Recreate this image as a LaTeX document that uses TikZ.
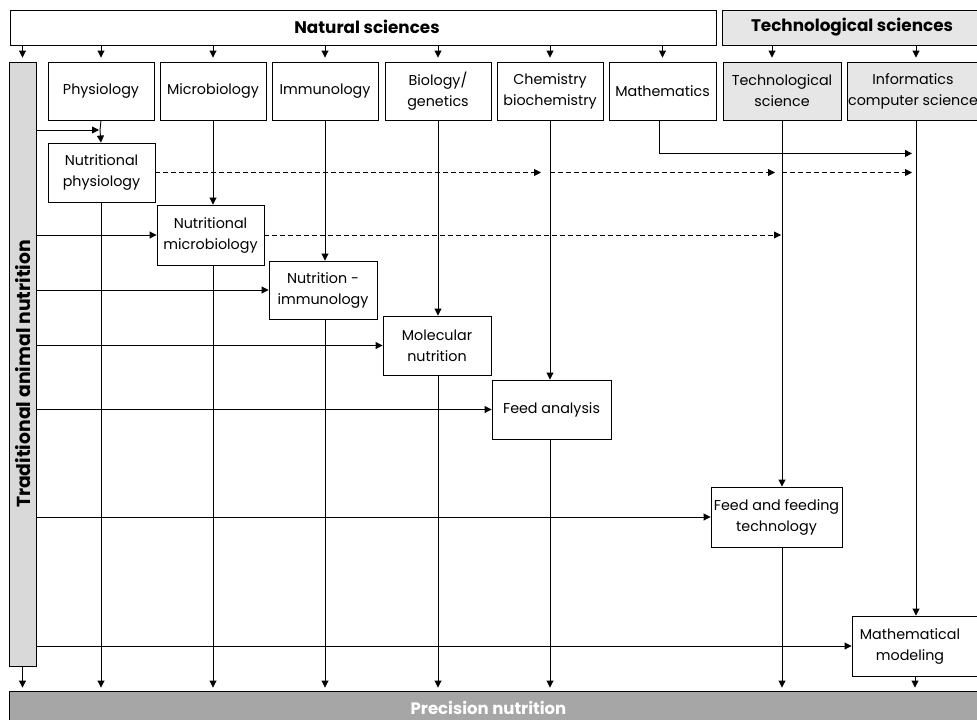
\documentclass[tikz,border=0pt]{standalone}
\usepackage{fontspec}
\setmainfont{Poppins}
\usetikzlibrary{arrows.meta,calc}
\definecolor{lightg}{HTML}{E6E6E6}
\definecolor{barg}{HTML}{D9D9D9}
\definecolor{precg}{HTML}{A6A6A6}
\begin{document}
\begin{tikzpicture}[x=1pt,y=-1pt,
  box/.style={draw, line width=0.9pt, align=center, inner sep=0pt, fill=white,
    font=\fontsize{14.3}{21}\selectfont},
  gbox/.style={box, fill=lightg},
  head/.style={draw, line width=0.9pt, align=center, inner sep=0pt,
    font=\fontsize{16.8}{19}\selectfont\bfseries},
  arr/.style={-{Triangle[length=7pt,width=7pt]}, line width=0.9pt},
  dsh/.style={arr, dash pattern=on 5pt off 3pt},
]
\useasboundingbox (0,0) rectangle (977,720);
% headers
\node[head, fill=white, minimum width=706pt, minimum height=35pt] (nat) at (363,27.5) {};
\node[font=\fontsize{16.8}{19}\selectfont\bfseries] (natlabel) at (367,27) {Natural sciences};
\node[head, fill=lightg, minimum width=258pt, minimum height=35pt] (techh) at (851,27.5) {};
\node[font=\fontsize{16.8}{19}\selectfont\bfseries] (techlabel) at (852,27) {Technological sciences};
% left bar and bottom bar
\node[draw, line width=0.9pt, fill=barg, minimum width=27pt, minimum height=604pt, inner sep=0pt] (trad) at (22.5,364) {};
\node[rotate=90, font=\fontsize{18.8}{20}\selectfont\bfseries] (tradlabel) at (23,374) {Traditional animal nutrition};
\node[draw, line width=0.9pt, fill=precg, minimum width=971pt, minimum height=31pt, inner sep=0pt] (prec) at (494.5,706.5) {};
\node[text=white, font=\fontsize{16.5}{18}\selectfont\bfseries] (preclabel) at (488.5,708) {Precision nutrition};
% discipline boxes
\node[box, minimum width=106pt, minimum height=58pt] (phys) at (101,91) {Physiology};
\node[box, minimum width=106pt, minimum height=58pt] (micro) at (213,91) {Microbiology};
\node[box, minimum width=106pt, minimum height=58pt] (immu) at (325,91) {Immunology};
\node[box, minimum width=106pt, minimum height=58pt] (bio) at (438,91) {Biology/\\genetics};
\node[box, minimum width=106pt, minimum height=58pt] (chem) at (550,91) {Chemistry\\biochemistry};
\node[box, minimum width=107pt, minimum height=58pt] (math) at (662.5,91) {Mathematics};
\node[gbox, minimum width=118pt, minimum height=58pt] (tech) at (782,91) {Technological\\science};
\node[gbox, minimum width=138pt, minimum height=58pt] (info) at (916,91) {};
\node[font=\fontsize{14.3}{21}\selectfont, align=center] (infolabel) at (913,91) {Informatics\\computer science};
% second-level boxes
\node[box, minimum width=107pt, minimum height=59pt] (nphys) at (101.5,172.5) {Nutritional\\physiology};
\node[box, minimum width=107pt, minimum height=60pt] (nmicro) at (210.5,235) {Nutritional\\microbiology};
\node[box, minimum width=108pt, minimum height=58pt] (nimmu) at (323,290) {Nutrition -\\immunology};
\node[box, minimum width=108pt, minimum height=59pt] (mol) at (437,345.5) {Molecular\\nutrition};
\node[box, minimum width=119pt, minimum height=59pt] (feed) at (551.5,409.5) {Feed analysis};
\node[box, minimum width=131pt, minimum height=60pt] (fft) at (776.5,517) {Feed and feeding\\technology};
\node[box, minimum width=126pt, minimum height=60pt] (mm) at (915,646) {};
\node[font=\fontsize{14.3}{21}\selectfont, align=center] (mmlabel) at (910,646) {Mathematical\\modeling};
% header arrows
\foreach \n in {phys,micro,immu,bio,chem,math,info}
  \draw[arr, shorten >=4pt] (nat.south -| \n.north) -- (\n.north);
\draw[arr, shorten >=4pt] (nat.south -| trad.north) -- (trad.north);
\coordinate (techin) at ($(tech.north)+(-10,0)$);
\draw[arr, shorten >=4pt] (nat.south -| techin) -- (techin);
% column arrows
\coordinate (j1) at (100,130);
\draw[line width=0.9pt] (phys.south) -- (j1);
\draw[arr] (j1) -- (phys.south |- nphys.north);
\draw[arr] (micro.south) -- (micro.south |- nmicro.north);
\draw[arr] (immu.south) -- (immu.south |- nimmu.north);
\draw[arr] (bio.south) -- (bio.south |- mol.north);
\draw[arr] (chem.south) -- (chem.south |- feed.north);
\draw[arr] (tech.south) -- (tech.south |- fft.north);
\draw[arr] (info.south) -- (info.south |- mm.north);
\draw[arr, shorten >=4pt] (math.south -| 659,0) |- ($(info.south)+(0,33)$);
% down to precision
\draw[arr, shorten >=3pt] (trad.south) -- (trad.south |- prec.north);
\draw[arr, shorten >=3pt] (phys.south |- nphys.south) -- (phys.south |- prec.north);
\draw[arr, shorten >=3pt] (micro.south |- nmicro.south) -- (micro.south |- prec.north);
\draw[arr, shorten >=3pt] (immu.south |- nimmu.south) -- (immu.south |- prec.north);
\draw[arr, shorten >=3pt] (bio.south |- mol.south) -- (bio.south |- prec.north);
\draw[arr, shorten >=3pt] (chem.south |- feed.south) -- (chem.south |- prec.north);
\draw[arr, shorten >=3pt] (tech.south |- fft.south) -- (tech.south |- prec.north);
\draw[arr, shorten >=3pt] (mm.south) -- (mm.south |- prec.north);
% from traditional nutrition
\draw[arr, shorten >=1pt] (trad.east |- j1) -- (j1);
\draw[arr] (trad.east |- nmicro.west) -- (nmicro.west);
\draw[arr] (trad.east |- nimmu.west) -- (nimmu.west);
\draw[arr] (trad.east |- mol.west) -- (mol.west);
\draw[arr] (trad.east |- feed.west) -- (feed.west);
\draw[arr] (trad.east |- fft.west) -- (fft.west);
\draw[arr] (trad.east |- mm.west) -- (mm.west);
% dashed
\draw[dsh, shorten >=9pt] (nphys.east) -- (nphys.east -| chem.south);
\draw[dsh, shorten >=7pt] (nphys.east -| chem.south) -- (nphys.east -| tech.south);
\draw[dsh, shorten >=4pt] (nphys.east -| tech.south) -- (nphys.east -| info.south);
\draw[dsh, shorten >=1pt] (nmicro.east) -- (nmicro.east -| tech.south);
\end{tikzpicture}
\end{document}
